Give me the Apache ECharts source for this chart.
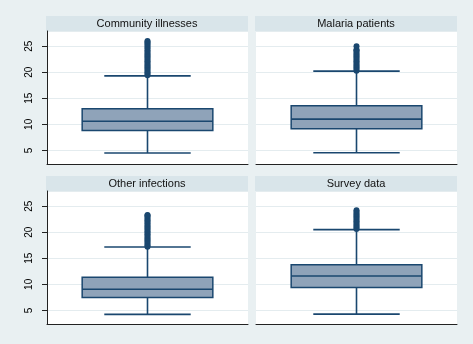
<!DOCTYPE html>
<html>
<head>
<meta charset="utf-8">
<script src="https://cdn.jsdelivr.net/npm/echarts@6/dist/echarts.min.js"></script>
<style>
  html, body { margin: 0; padding: 0; background: #e9f0f2; }
  #chart { width: 473px; height: 344px; }
</style>
</head>
<body>
<div id="chart"></div>
<script>
// panel titles, in drawing order (top-left, top-right, bottom-left, bottom-right)
var panelNames = ['Community illnesses', 'Malaria patients', 'Other infections', 'Survey data'];

// box plot summaries per panel
var lowWhisker  = [4.5, 4.55, 4.25, 4.3];
var q1          = [8.8, 9.15, 7.5, 9.4];
var median      = [10.6, 11.0, 9.05, 11.6];
var q3          = [13.0, 13.55, 11.35, 13.75];
var highWhisker = [19.3, 20.2, 17.15, 20.5];

// outside values (they pile up into a thick column)
var outCommunity = [19.4, 19.7, 20.0, 20.3, 20.6, 20.9, 21.2, 21.5, 21.8, 22.1, 22.4, 22.7,
    23.0, 23.3, 23.6, 23.9, 24.2, 24.6, 24.9, 25.2, 25.5, 25.8, 26.0];
var outMalaria = [20.3, 20.6, 20.9, 21.2, 21.5, 21.8, 22.1, 22.4, 22.7, 23.0, 23.3, 23.6,
    23.9, 24.2, 24.3, 25.0];
var outOther = [17.2, 17.5, 17.8, 18.1, 18.4, 18.7, 19.0, 19.3, 19.6, 19.9, 20.2, 20.5,
    20.8, 21.1, 21.4, 21.7, 22.0, 22.3, 22.6, 22.9, 23.2, 23.3];
var outSurvey = [20.6, 20.9, 21.2, 21.5, 21.8, 22.1, 22.4, 22.7, 23.0, 23.3, 23.6, 23.9, 24.2];
var outliers = [outCommunity, outMalaria, outOther, outSurvey];

// y axis range shared by all panels
var yMin = 2.4;
var yMax = 27.9;

var navy = '#1a476f';
var boxFill = '#8fa3b9';

var chart = echarts.init(document.getElementById('chart'));

var gridPos = [
    { left: 47, top: 31 },
    { left: 256, top: 31 },
    { left: 47, top: 191 },
    { left: 256, top: 191 }
];

function renderBox(params, api) {
    var cat = api.value(0);
    var x = api.coord([cat, 0])[0];
    var band = api.size([1, 0])[0];
    var bw = band * 0.65;
    var cw = band * 0.43;
    var yLow = api.coord([cat, api.value(1)])[1];
    var yQ1 = api.coord([cat, api.value(2)])[1];
    var yMed = api.coord([cat, api.value(3)])[1];
    var yQ3 = api.coord([cat, api.value(4)])[1];
    var yHigh = api.coord([cat, api.value(5)])[1];
    var ls = { stroke: navy, lineWidth: 1.6 };
    return {
        type: 'group',
        children: [
            { type: 'line', shape: { x1: x, y1: yHigh, x2: x, y2: yQ3 }, style: ls },
            { type: 'line', shape: { x1: x, y1: yQ1, x2: x, y2: yLow }, style: ls },
            { type: 'line', shape: { x1: x - cw / 2, y1: yHigh, x2: x + cw / 2, y2: yHigh }, style: ls },
            { type: 'line', shape: { x1: x - cw / 2, y1: yLow, x2: x + cw / 2, y2: yLow }, style: ls },
            { type: 'rect', shape: { x: x - bw / 2, y: yQ3, width: bw, height: yQ1 - yQ3 },
              style: { fill: boxFill, stroke: navy, lineWidth: 1.5 } },
            { type: 'line', shape: { x1: x - bw / 2, y1: yMed, x2: x + bw / 2, y2: yMed }, style: ls }
        ]
    };
}

var grids = [], xAxes = [], yAxes = [], series = [], graphics = [];

for (var i = 0; i < 4; i++) {
    var leftCol = (i % 2 === 0);
    grids.push({
        left: gridPos[i].left, top: gridPos[i].top, width: 201, height: 133,
        show: true, backgroundColor: '#ffffff', borderWidth: 0
    });
    xAxes.push({
        type: 'category', gridIndex: i, data: [''],
        axisLine: { show: true, lineStyle: { color: '#222', width: 1 } },
        axisTick: { show: false },
        axisLabel: { show: false },
        splitLine: { show: false }
    });
    yAxes.push({
        type: 'value', gridIndex: i, min: yMin, max: yMax, splitNumber: 5,
        axisLine: { show: leftCol, lineStyle: { color: '#222', width: 1 } },
        axisTick: { show: leftCol, length: 5, lineStyle: { color: '#222' } },
        axisLabel: {
            show: leftCol, rotate: 90, fontSize: 10, color: '#000', margin: 13,
            fontFamily: 'Liberation Sans', showMinLabel: false, showMaxLabel: false
        },
        splitLine: { show: true, lineStyle: { color: '#e4ecef', width: 1 } }
    });
    series.push({
        type: 'custom', xAxisIndex: i, yAxisIndex: i,
        renderItem: renderBox,
        data: [[0, lowWhisker[i], q1[i], median[i], q3[i], highWhisker[i]]],
        z: 3
    });
    series.push({
        type: 'scatter', xAxisIndex: i, yAxisIndex: i,
        symbolSize: 6,
        itemStyle: { color: navy, opacity: 1 },
        data: outliers[i].map(function (v) { return [0, v]; }),
        z: 4
    });
    graphics.push({
        type: 'rect', left: gridPos[i].left - 1, top: gridPos[i].top - 15,
        shape: { width: 202, height: 15 },
        style: { fill: '#d9e5ea' }
    });
    graphics.push({
        type: 'text', x: gridPos[i].left + 100, y: gridPos[i].top - 7.5,
        style: {
            text: panelNames[i], fill: '#111', font: '11px "Liberation Sans"',
            textAlign: 'center', textVerticalAlign: 'middle'
        }
    });
}

var option = {
    backgroundColor: '#e9f0f2',
    animation: false,
    grid: grids,
    xAxis: xAxes,
    yAxis: yAxes,
    series: series,
    graphic: graphics
};

chart.setOption(option);
</script>
</body>
</html>
